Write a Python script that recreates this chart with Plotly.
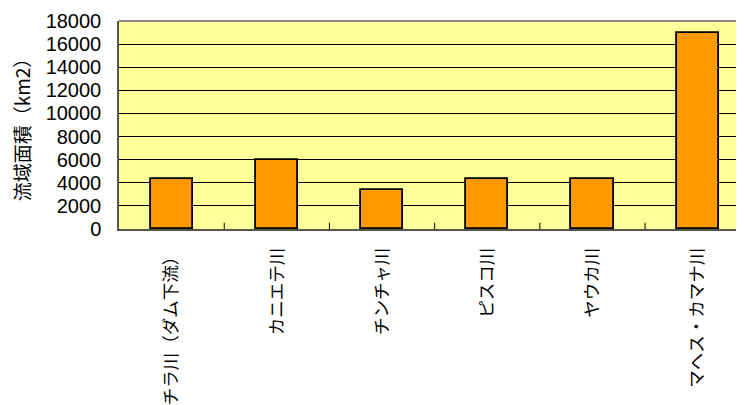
import plotly.graph_objects as go

rivers = ['チラ川（ダム下流）', 'カニエテ川', 'チンチャ川', 'ピスコ川', 'ヤウカ川', 'マヘス・カマナ川']
areas = [4300, 6000, 3350, 4300, 4300, 17000]
y_ticks = [0, 2000, 4000, 6000, 8000, 10000, 12000, 14000, 16000, 18000]

jp = 'Noto Sans CJK JP'

bar = go.Bar(x=list(range(len(rivers))), y=areas, width=0.4,
             marker=dict(color='#FF9900', line=dict(color='black', width=1.8)))

fig = go.Figure(data=[bar])
# page body has an 8px margin, so the figure is shifted; compensate here
fig.update_layout(
    width=736, height=397,
    margin=dict(l=111, r=0, t=13, b=176),
    paper_bgcolor='white', plot_bgcolor='#FFFF99',
    showlegend=False, bargap=0,
    font=dict(family=jp, color='black'),
)
fig.update_xaxes(
    tickmode='array', tickvals=list(range(len(rivers))), ticktext=rivers,
    tickangle=-90, tickfont=dict(size=17.5, family=jp), ticklabelstandoff=10,
    range=[-0.5, 5.44], showgrid=False, ticks='', automargin=False,
    showline=True, linecolor='#555555', linewidth=1.5,
)
# category boundary tick marks
fig.update_layout(shapes=[
    dict(type='line', xref='x', yref='paper', x0=i + 0.5, x1=i + 0.5, y0=0, y1=0.03,
         line=dict(color='black', width=1))
    for i in range(len(rivers) - 1)
])
fig.update_yaxes(
    range=[0, 18000], tickmode='array', tickvals=y_ticks, ticktext=[str(v) for v in y_ticks],
    tickfont=dict(size=20, family='Liberation Sans'), automargin=False, ticklabelstandoff=12,
    gridcolor='black', gridwidth=1, showline=True, linecolor='#555555', linewidth=1.5,
    ticks='', zeroline=False,
    title=dict(text='流域面積（km2）', font=dict(size=19, family=jp), standoff=10),
)
fig.add_shape(type='line', xref='paper', yref='paper', x0=0, x1=1, y0=1, y1=1,
              line=dict(color='#888888', width=2))

fig.write_html('out.html')
